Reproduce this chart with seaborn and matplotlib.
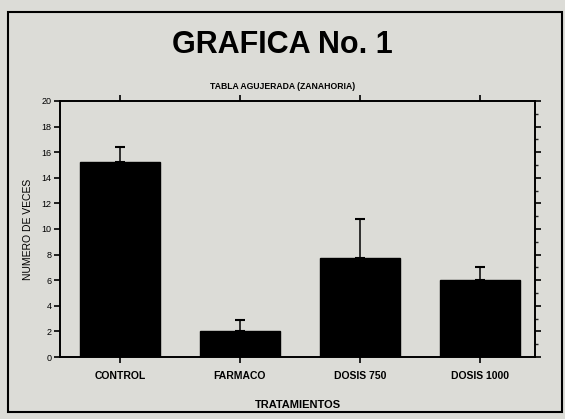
import matplotlib
matplotlib.use('Agg')
import matplotlib.pyplot as plt
import seaborn as sns
import numpy as np
import pandas as pd
from matplotlib.patches import Rectangle
from matplotlib.ticker import MultipleLocator

# data
tratamientos = ['CONTROL', 'FARMACO', 'DOSIS 750', 'DOSIS 1000']
veces = [15.2, 2.0, 7.7, 6.0]
error_sup = [1.2, 0.9, 3.1, 1.0]

y_ticks = [0, 2, 4, 6, 8, 10, 12, 14, 16, 18, 20]

bg = '#dcdcd7'

sns.set_style('ticks')
plt.rcParams['font.family'] = ['Liberation Sans', 'DejaVu Sans']
plt.rcParams['text.color'] = 'black'
plt.rcParams['axes.labelcolor'] = 'black'

df = pd.DataFrame({'tratamiento': tratamientos, 'veces': veces})

fig = plt.figure(figsize=(5.65, 4.19), dpi=100, facecolor=bg)
ax = fig.add_axes([60/565, 1 - 357/419, 475/565, 256/419])
ax.set_facecolor(bg)

sns.barplot(data=df, x='tratamiento', y='veces', color='black', width=0.67,
            saturation=1, edgecolor='black', ax=ax)

# one-sided error bars (upper only)
ax.errorbar(range(len(tratamientos)), veces,
            yerr=[np.zeros(len(veces)), error_sup],
            fmt='none', ecolor='black', elinewidth=1.1, capsize=3.5, capthick=1.5)

ax.set_xlim(-0.5, 3.46)
ax.set_ylim(0, 20)
ax.set_yticks(y_ticks)

for s in ax.spines.values():
    s.set_visible(True)
    s.set_linewidth(1.4)
    s.set_color('black')

ax.tick_params(axis='both', direction='out', length=4, width=1.2, colors='black',
               labelsize=6.5, pad=2)
ax.tick_params(axis='x', top=True, labelsize=7.5, pad=6)
ax.tick_params(axis='y', right=True)
ax.yaxis.set_minor_locator(MultipleLocator(1))
ax.tick_params(axis='y', which='minor', left=False, right=True, length=2.5,
               width=1.0, direction='out')
ax.tick_params(axis='y', which='major', labelleft=True, labelright=False)

for lab in ax.get_xticklabels():
    lab.set_fontweight('bold')

ax.set_xlabel('TRATAMIENTOS', fontsize=8, fontweight='bold', labelpad=14)
ax.set_ylabel('NUMERO DE VECES', fontsize=7.5, labelpad=6)

fig.text(0.5, 1 - 45/419, 'GRAFICA No. 1', ha='center', va='center',
         fontsize=22, fontweight='bold')
fig.text(283/565, 1 - 86/419, 'TABLA AGUJERADA (ZANAHORIA)', ha='center',
         va='center', fontsize=6.2, fontweight='bold')

# outer frame of the scanned page
fig.patches.append(Rectangle((8/565, 1 - 412/419), 554/565, 400/419,
                             transform=fig.transFigure, fill=False,
                             edgecolor='black', linewidth=1.5))

fig.savefig('out.png', dpi=100, facecolor=bg)
plt.close(fig)
